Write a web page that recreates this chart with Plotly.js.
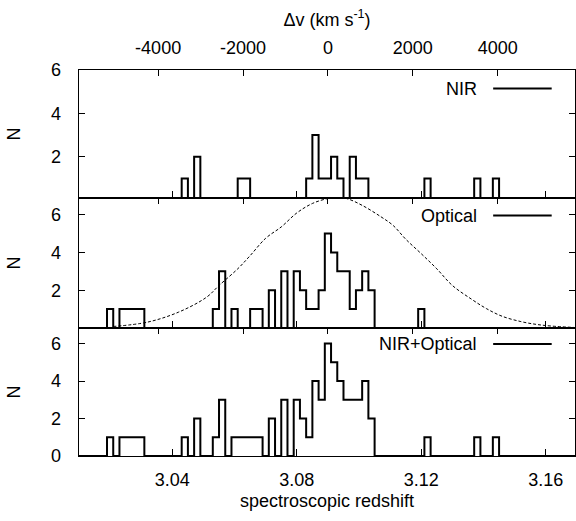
<!DOCTYPE html>
<html>
<head>
<meta charset="utf-8">
<script src="https://cdn.plot.ly/plotly-3.0.1.min.js"></script>
<style>
  html, body { margin: 0; padding: 0; background: #fff; }
  #chart { width: 576px; height: 521px; }
</style>
</head>
<body>
<div id="chart"></div>
<script>
// ---------------- data ----------------
// redshift histogram bins (0.002 wide), centres of non-empty bins and counts
const nirCenters = [3.044, 3.048, 3.062, 3.064, 3.084, 3.086, 3.088, 3.090, 3.092, 3.094, 3.098, 3.100, 3.102, 3.122, 3.138, 3.144];
const nirCounts  = [1, 2, 1, 1, 1, 3, 1, 1, 2, 1, 2, 1, 1, 1, 1, 1];

const optCenters = [3.020, 3.024, 3.026, 3.028, 3.030, 3.054, 3.056, 3.060, 3.066, 3.068, 3.072, 3.076, 3.080, 3.082, 3.084, 3.086, 3.088, 3.090, 3.092, 3.094, 3.096, 3.098, 3.100, 3.102, 3.104, 3.120];
const optCounts  = [1, 1, 1, 1, 1, 1, 3, 1, 1, 1, 2, 3, 3, 2, 1, 1, 2, 5, 4, 3, 3, 1, 2, 3, 2, 1];

const allCenters = [3.020, 3.024, 3.026, 3.028, 3.030, 3.044, 3.048, 3.054, 3.056, 3.060, 3.062, 3.064, 3.066, 3.068, 3.072, 3.076, 3.080, 3.082, 3.084, 3.086, 3.088, 3.090, 3.092, 3.094, 3.096, 3.098, 3.100, 3.102, 3.104, 3.122, 3.138, 3.144];
const allCounts  = [1, 1, 1, 1, 1, 1, 2, 1, 3, 1, 1, 1, 1, 1, 2, 3, 3, 2, 1, 4, 3, 6, 5, 4, 3, 3, 3, 4, 2, 1, 1, 1];

// dashed curve in the Optical panel (read point by point)
const curveZ = [3.021, 3.032, 3.042, 3.051, 3.055, 3.061, 3.065, 3.070, 3.075, 3.080, 3.085, 3.090, 3.093, 3.096, 3.101, 3.107, 3.111, 3.115, 3.120, 3.125, 3.130, 3.136, 3.141, 3.146, 3.152, 3.157, 3.162, 3.169];
const curveN = [0.08, 0.31, 0.84, 1.63, 2.25, 3.13, 3.83, 4.75, 5.35, 6.09, 6.59, 6.85, 6.88, 6.85, 6.49, 5.89, 5.42, 4.70, 3.93, 3.13, 2.25, 1.54, 1.02, 0.62, 0.34, 0.19, 0.10, 0.03];

// axes
const zTicks = [3.04, 3.08, 3.12, 3.16];
const zTickLabels = ['3.04', '3.08', '3.12', '3.16'];
const dvTicks = [-4000, -2000, 0, 2000, 4000];
const dvTickLabels = ['-4000', '-2000', '0', '2000', '4000'];
const zRange = [3.01, 3.1694];
const zRef = 3.09;           // redshift of dv = 0
const cLight = 299792.458;   // km/s
const legendNames = ['NIR', 'Optical', 'NIR+Optical'];

// ---------------- build step series ----------------
function steps(centers, counts) {
  const map = {};
  centers.forEach((c, i) => { map[Math.round(c * 1000)] = counts[i]; });
  const xs = [], ys = [];
  for (let k = 3004; k <= 3176; k += 2) {
    xs.push(k / 1000);
    ys.push(map[k] || 0);
  }
  return {xs, ys};
}
const toDv = z => cLight * (z - zRef) / (1 + zRef);
const dvRange = [toDv(zRange[0]), toDv(zRange[1])];

const FONT = {family: 'Liberation Sans, Arial, Helvetica, sans-serif', size: 18, color: '#000'};

const sN = steps(nirCenters, nirCounts);
const sO = steps(optCenters, optCounts);
const sA = steps(allCenters, allCounts);

const histLine = {color: '#000', width: 2, shape: 'hvh'};
const traces = [
  {x: sN.xs, y: sN.ys, xaxis: 'x', yaxis: 'y', mode: 'lines', line: histLine, hoverinfo: 'skip', showlegend: false},
  {x: sO.xs, y: sO.ys, xaxis: 'x3', yaxis: 'y2', mode: 'lines', line: histLine, hoverinfo: 'skip', showlegend: false},
  {x: curveZ, y: curveN, xaxis: 'x3', yaxis: 'y2', mode: 'lines',
   line: {color: '#000', width: 1, dash: '3px,2px', shape: 'spline', smoothing: 1}, hoverinfo: 'skip', showlegend: false},
  {x: sA.xs, y: sA.ys, xaxis: 'x5', yaxis: 'y3', mode: 'lines', line: histLine, hoverinfo: 'skip', showlegend: false},
  // carriers for the velocity axes (no visible marks)
  {x: dvRange, y: [null, null], xaxis: 'x2', yaxis: 'y', mode: 'lines', hoverinfo: 'skip', showlegend: false},
  {x: dvRange, y: [null, null], xaxis: 'x4', yaxis: 'y2', mode: 'lines', hoverinfo: 'skip', showlegend: false},
  {x: dvRange, y: [null, null], xaxis: 'x6', yaxis: 'y3', mode: 'lines', hoverinfo: 'skip', showlegend: false}
];

const LW = 1.3;
function zAxis(anchor, labels) {
  return {
    anchor: anchor, domain: [0, 1], range: zRange, autorange: false,
    tickmode: 'array', tickvals: zTicks, ticktext: zTickLabels,
    showticklabels: labels, ticks: 'inside', ticklen: 7, tickwidth: 1, tickcolor: '#000',
    showline: true, linecolor: '#000', linewidth: LW, mirror: false,
    showgrid: false, zeroline: false, tickfont: FONT, ticklabelstandoff: 7
  };
}
function vAxis(over, anchor, labels) {
  return {
    overlaying: over, anchor: anchor, side: 'top', range: dvRange, autorange: false,
    tickmode: 'array', tickvals: dvTicks, ticktext: dvTickLabels,
    showticklabels: labels, ticks: 'inside', ticklen: 6, tickwidth: 1, tickcolor: '#000',
    showline: true, linecolor: '#000', linewidth: LW,
    showgrid: false, zeroline: false, tickfont: FONT, ticklabelstandoff: 8
  };
}
function yAxis(anchor, dom, rng, tv) {
  return {
    anchor: anchor, domain: dom, range: rng, autorange: false,
    tickmode: 'array', tickvals: tv, ticktext: tv.map(String),
    ticks: 'inside', ticklen: 6, tickwidth: 1, tickcolor: '#000',
    showline: true, linecolor: '#000', linewidth: LW, mirror: 'ticks',
    showgrid: false, zeroline: false, tickfont: FONT, ticklabelstandoff: 13,
    title: {text: 'N', font: FONT, standoff: 25}
  };
}

const d1 = 128 / 386, d2 = 258 / 386;
const xa = zAxis('y', false);
const xa5 = zAxis('y3', true);
xa5.title = {text: 'spectroscopic redshift', font: FONT, standoff: 5};
const xa2 = vAxis('x', 'y', true);
xa2.title = {text: 'Δv (km s<sup>-1</sup>)', font: FONT, standoff: 6};

// legend-like labels (text left of a line sample, gnuplot style)
const legY = [0.952, 0.623, 0.290];
const annotations = legendNames.map((t, i) => ({
  text: t, xref: 'paper', yref: 'paper', x: 0.806, y: legY[i],
  xanchor: 'right', yanchor: 'middle', showarrow: false, font: FONT
}));
const shapes = legendNames.map((t, i) => ({
  type: 'line', xref: 'paper', yref: 'paper', x0: 0.835, x1: 0.953, y0: legY[i], y1: legY[i],
  line: {color: '#000', width: 2}
}));

const layout = {
  width: 576, height: 521,
  margin: {l: 79, r: 1, t: 70, b: 65, pad: 0},
  paper_bgcolor: '#fff', plot_bgcolor: '#fff',
  font: FONT, showlegend: false,
  xaxis: xa, xaxis2: xa2,
  xaxis3: zAxis('y2', false), xaxis4: vAxis('x3', 'y2', false),
  xaxis5: xa5, xaxis6: vAxis('x5', 'y3', false),
  yaxis: yAxis('x', [d2, 1], [0.1, 6.0], [2, 4, 6]),
  yaxis2: yAxis('x3', [d1, d2], [0, 6.88], [2, 4, 6]),
  yaxis3: yAxis('x5', [0, d1], [0, 6.83], [0, 2, 4, 6]),
  annotations: annotations, shapes: shapes
};

Plotly.newPlot('chart', traces, layout, {staticPlot: true, displayModeBar: false});
</script>
</body>
</html>
